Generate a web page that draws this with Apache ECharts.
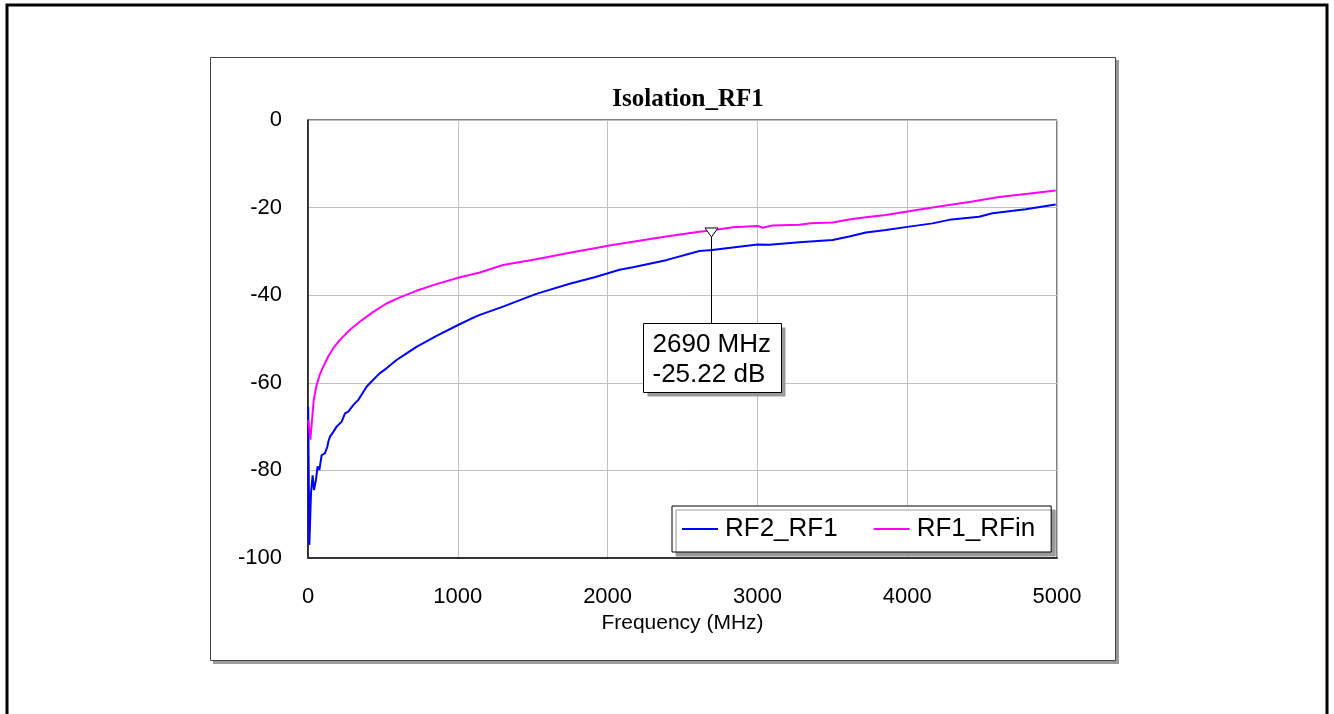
<!DOCTYPE html>
<html>
<head>
<meta charset="utf-8">
<script src="https://cdn.jsdelivr.net/npm/echarts@6/dist/echarts.min.js"></script>
<style>
  html, body { margin: 0; padding: 0; background: #fff; }
  #chart { width: 1334px; height: 714px; }
</style>
</head>
<body>
<div id="chart"></div>
<script>
// ---- Data ----
const chartTitle = 'Isolation_RF1';
const xAxisName = 'Frequency (MHz)';
const seriesNames = ['RF2_RF1', 'RF1_RFin'];

const freqRF2 = [1, 9, 20, 31, 40, 53, 64, 76, 91, 113, 129, 136, 147, 158, 169, 191, 224, 247, 269, 302, 336, 391, 424, 480, 524, 591, 658, 724, 858, 1002, 1080, 1147, 1302, 1524, 1747, 1913, 2002, 2080, 2169, 2391, 2613, 2698, 2836, 3002, 3080, 3280, 3502, 3613, 3724, 3858, 4002, 4169, 4280, 4480, 4569, 4791, 4991];
const dbRF2 = [-65.5, -97.0, -85.2, -81.1, -84.5, -82.2, -79.1, -79.9, -76.5, -76.1, -74.6, -73.4, -72.3, -72.7, -71.2, -70.0, -68.9, -67.0, -66.6, -65.1, -63.9, -60.9, -59.7, -57.8, -56.7, -54.8, -53.3, -51.8, -49.3, -46.8, -45.5, -44.5, -42.6, -39.7, -37.4, -35.9, -35.0, -34.2, -33.6, -32.0, -29.9, -29.7, -29.1, -28.4, -28.5, -27.9, -27.4, -26.6, -25.7, -25.1, -24.4, -23.6, -22.8, -22.1, -21.3, -20.4, -19.3];

const freqRF1 = [2, 16, 27, 38, 55, 80, 102, 135, 169, 213, 280, 347, 436, 524, 613, 724, 836, 1002, 1147, 1302, 1524, 1747, 1913, 2002, 2169, 2391, 2613, 2690, 2836, 3002, 3036, 3100, 3280, 3358, 3502, 3613, 3724, 3858, 4002, 4169, 4280, 4436, 4613, 4791, 4991];
const dbRF1 = [-68.5, -73.0, -68.5, -64.0, -60.8, -58.0, -56.3, -54.0, -52.1, -50.2, -47.9, -46.0, -43.8, -41.9, -40.5, -39.0, -37.7, -36.0, -34.8, -33.1, -31.8, -30.3, -29.3, -28.7, -27.8, -26.6, -25.5, -25.22, -24.5, -24.2, -24.6, -24.1, -23.9, -23.6, -23.4, -22.7, -22.2, -21.7, -20.9, -20.0, -19.4, -18.6, -17.6, -16.9, -16.1];

const markerFreq = 2690;
const markerDb = -25.22;

const xTicks = { min: 0, max: 5000, interval: 1000 };
const yTicks = { min: -100, max: 0, interval: 20 };

// ---- Build chart ----
const zip = (xs, ys) => xs.map((x, i) => [x, ys[i]]);
const FONT = '"Liberation Sans", Arial, sans-serif';

const chart = echarts.init(document.getElementById('chart'), null, { renderer: 'canvas' });

const option = {
  backgroundColor: '#fff',
  animation: false,
  graphic: [
    { type: 'rect', z: -100, shape: { x: 7, y: 5, width: 1320, height: 730 },
      style: { fill: '#fff', stroke: '#000', lineWidth: 3 } },
    { type: 'rect', z: -99, shape: { x: 213, y: 60, width: 906, height: 604 },
      style: { fill: '#9a9a9a' } },
    { type: 'rect', z: -98, shape: { x: 210.5, y: 57.5, width: 905, height: 603 },
      style: { fill: '#fff', stroke: '#444', lineWidth: 1 } }
  ],
  title: {
    text: chartTitle,
    left: 683,
    top: 82,
    textAlign: 'center',
    textStyle: { fontFamily: '"Liberation Serif", "Times New Roman", serif', fontWeight: 'bold', fontSize: 25, color: '#000' }
  },
  legend: {
    data: seriesNames,
    left: 672,
    top: 506,
    orient: 'horizontal',
    icon: 'rect',
    padding: [10, 16, 10, 10],
    itemGap: 36,
    itemWidth: 36,
    itemHeight: 2,
    backgroundColor: '#fff',
    borderColor: '#000',
    borderWidth: 1,
    shadowColor: '#999',
    shadowBlur: 0,
    shadowOffsetX: 4,
    shadowOffsetY: 4,
    textStyle: { fontFamily: FONT, fontSize: 26, color: '#000', padding: [0, 0, 0, 2] }
  },
  grid: {
    left: 308, right: 277, top: 120, bottom: 156,
    show: true, borderColor: '#000', borderWidth: 1, backgroundColor: 'transparent'
  },
  xAxis: {
    type: 'value',
    min: xTicks.min, max: xTicks.max, interval: xTicks.interval,
    name: xAxisName,
    nameLocation: 'middle',
    nameGap: 45,
    nameTextStyle: { fontFamily: FONT, fontSize: 21, color: '#000' },
    axisLine: { show: true, onZero: false, lineStyle: { color: '#333', width: 2 } },
    axisTick: { show: false },
    axisLabel: { margin: 28, fontFamily: FONT, fontSize: 22, color: '#000', formatter: v => String(v) },
    splitLine: { show: true, lineStyle: { color: '#c0c0c0', width: 1 } }
  },
  yAxis: {
    type: 'value',
    min: yTicks.min, max: yTicks.max, interval: yTicks.interval,
    axisLine: { show: true, onZero: false, lineStyle: { color: '#111', width: 1.5 } },
    axisTick: { show: false },
    axisLabel: { margin: 26, fontFamily: FONT, fontSize: 22, color: '#000', padding: [4, 0, 0, 0], formatter: v => String(v) },
    splitLine: { show: true, lineStyle: { color: '#c0c0c0', width: 1 } }
  },
  series: [
    {
      name: seriesNames[0], type: 'line', data: zip(freqRF2, dbRF2),
      showSymbol: false, symbol: 'none',
      lineStyle: { color: '#0000ff', width: 2 }, itemStyle: { color: '#0000ff' },
      z: 3
    },
    {
      name: seriesNames[1], type: 'line', data: zip(freqRF1, dbRF1),
      showSymbol: false, symbol: 'none',
      lineStyle: { color: '#ff00ff', width: 2 }, itemStyle: { color: '#ff00ff' },
      z: 3
    },
    {
      name: 'marker', type: 'custom', data: [[markerFreq, markerDb]],
      clip: false, z: 5, silent: true,
      renderItem: function (params, api) {
        const f = api.value(0), v = api.value(1);
        const p = api.coord([f, v]);
        const x = Math.round(p[0]) + 0.5, y = p[1];
        const bx = Math.round(x - 69) + 0.5, by = Math.round(y + 93) + 0.5, bw = 138, bh = 69;
        return {
          type: 'group',
          children: [
            { type: 'rect', shape: { x: bx + 4, y: by + 4, width: bw, height: bh }, style: { fill: '#9a9a9a' } },
            { type: 'line', shape: { x1: x, y1: y + 6, x2: x, y2: by }, style: { stroke: '#000', lineWidth: 1 } },
            { type: 'polygon', shape: { points: [[x - 6.5, y - 2.5], [x + 6.5, y - 2.5], [x, y + 6.5]] },
              style: { fill: '#fff', stroke: '#000', lineWidth: 1 } },
            { type: 'rect', shape: { x: bx, y: by, width: bw, height: bh }, style: { fill: '#fff', stroke: '#000', lineWidth: 1 } },
            { type: 'text', x: bx + 9, y: by + 21, style: { text: f + ' MHz', fontFamily: FONT, fontSize: 26, fill: '#000', verticalAlign: 'middle', align: 'left' } },
            { type: 'text', x: bx + 9, y: by + 51, style: { text: v.toFixed(2) + ' dB', fontFamily: FONT, fontSize: 26, fill: '#000', verticalAlign: 'middle', align: 'left' } }
          ]
        };
      }
    }
  ]
};

chart.setOption(option);
</script>
</body>
</html>
